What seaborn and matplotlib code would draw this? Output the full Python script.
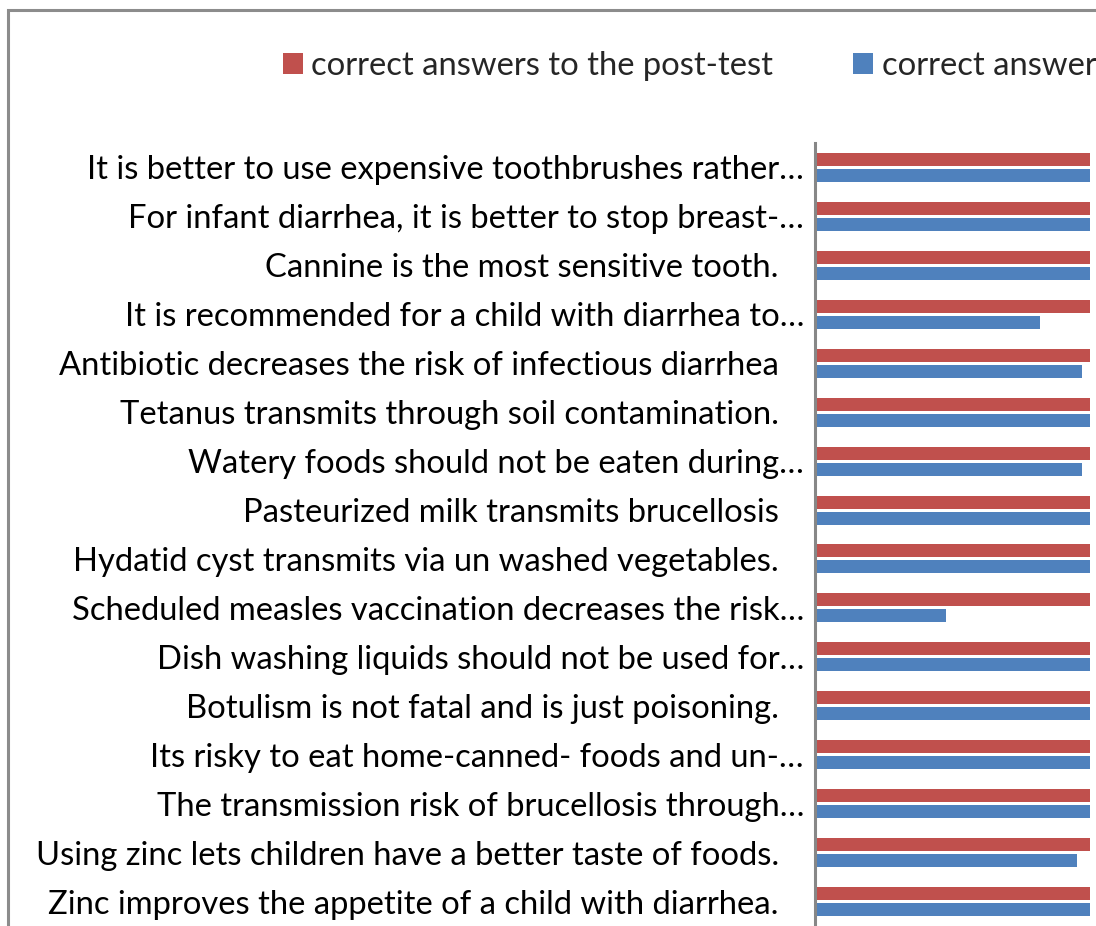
import matplotlib
matplotlib.use("Agg")
import pandas as pd
import matplotlib.pyplot as plt
import seaborn as sns
from matplotlib.patches import Patch, Rectangle

# statements, top to bottom as shown
questions = [
    "It is better to use expensive toothbrushes rather\u2026",
    "For infant diarrhea, it is better to stop breast-\u2026",
    "Cannine is the most sensitive tooth.   ",
    "It is recommended for a child with diarrhea to\u2026",
    "Antibiotic decreases the risk of infectious diarrhea   ",
    "Tetanus transmits through soil contamination.   ",
    "Watery foods should not be eaten during\u2026",
    "Pasteurized milk transmits brucellosis   ",
    "Hydatid cyst transmits via un washed vegetables.   ",
    "Scheduled measles vaccination decreases the risk\u2026",
    "Dish washing liquids should not be used for\u2026",
    "Botulism is not fatal and is just poisoning.   ",
    "Its risky to eat home-canned- foods and un-\u2026",
    "The transmission risk of brucellosis through\u2026",
    "Using zinc lets children have a better taste of foods.   ",
    "Zinc improves the appetite of a child with diarrhea.   ",
]
# percent correct (visible part of the chart only goes to ~60)
post_test = [96, 94, 97, 92, 95, 98, 93, 96, 97, 90, 95, 97, 94, 96, 93, 98]
pre_test = [78, 72, 80, 49.1, 58.3, 75, 58.3, 70, 82, 28.5, 68, 77, 71, 66, 57.2, 85]
series = ["correct answers to the post-test", "correct answers to the pre-test"]
colors = ["#C0504D", "#4F81BD"]

df = pd.concat([
    pd.DataFrame({"question": questions, "value": post_test, "series": series[0]}),
    pd.DataFrame({"question": questions, "value": pre_test, "series": series[1]}),
])

sns.set_theme(style="white")
plt.rcParams["font.family"] = ["Lato", "DejaVu Sans"]
FS = 23.6

W, H = 1096, 926
fig = plt.figure(figsize=(W / 100, H / 100), dpi=100)
ax = fig.add_axes([815 / W, 0, 275 / W, (H - 143) / H])

sns.barplot(data=df, y="question", x="value", hue="series", hue_order=series,
            palette=colors, saturation=1, width=0.655, gap=0.19, orient="h",
            linewidth=0, legend=False, ax=ax)

ax.set_xlim(0, 60)
ax.set_ylim(15.5, -0.5)
ax.set_xticks([])
ax.set_xlabel("")
ax.set_ylabel("")
for s in ["top", "right", "bottom"]:
    ax.spines[s].set_visible(False)
ax.spines["left"].set_color("#878787")
ax.spines["left"].set_linewidth(2.2)
ax.tick_params(axis="y", length=0, pad=8, labelsize=FS, labelcolor="black")

handles = [Patch(facecolor=c, edgecolor="none") for c in colors]
fig.legend(handles, series, loc="upper left", bbox_to_anchor=(283 / W, 1 - 51 / H),
           ncol=2, frameon=False, fontsize=FS, handlelength=0.61, handleheight=0.61,
           handletextpad=0.25, columnspacing=2.45, borderpad=0, borderaxespad=0)

# outer chart border (cut off on the right and bottom)
fig.patches.append(Rectangle((8 / W, -0.2), 1.5, 1.2 - 10 / H, transform=fig.transFigure,
                             fill=False, edgecolor="#8C8C8C", linewidth=2.2))

fig.savefig("out.png", dpi=100)
